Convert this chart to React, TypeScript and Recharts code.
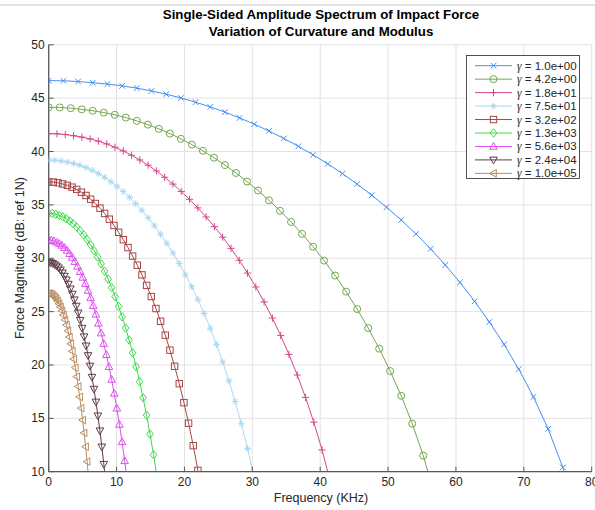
import { LineChart, Line, XAxis, YAxis, CartesianGrid } from 'recharts'

// gamma values shown in the legend
const gammaLabels = ['1.0e+00', '4.2e+00', '1.8e+01', '7.5e+01', '3.2e+02', '1.3e+03', '5.6e+03', '2.4e+04', '1.0e+05']

// frequency spacing (KHz) between samples of each curve
const freqSteps = [2.164, 1.623, 1.2205, 0.9155, 0.687, 0.515, 0.386, 0.29, 0.2175]

// force magnitude (dB), one entry per sample
const g1 = [46.64, 46.63, 46.56, 46.45, 46.32, 46.15, 45.94, 45.68, 45.37, 45.02, 44.62, 44.18, 43.69, 43.15, 42.56, 41.92, 41.23, 40.49, 39.69, 38.84, 37.93, 36.95, 35.9, 34.78, 33.58, 32.28, 30.88, 29.37, 27.74, 25.96, 24.03, 21.93, 19.61, 17.01, 14.01, 10.41, 5.81]
const g4 = [44.14, 44.13, 44.06, 43.95, 43.82, 43.65, 43.44, 43.18, 42.87, 42.52, 42.12, 41.68, 41.19, 40.65, 40.06, 39.42, 38.73, 37.99, 37.19, 36.34, 35.43, 34.45, 33.4, 32.28, 31.08, 29.78, 28.38, 26.87, 25.24, 23.46, 21.53, 19.43, 17.11, 14.51, 11.51, 7.91]
const g18 = [41.67, 41.66, 41.59, 41.48, 41.35, 41.18, 40.97, 40.71, 40.4, 40.05, 39.65, 39.21, 38.72, 38.18, 37.59, 36.95, 36.26, 35.52, 34.72, 33.87, 32.96, 31.98, 30.93, 29.81, 28.61, 27.31, 25.91, 24.4, 22.77, 20.99, 19.06, 16.96, 14.64, 12.04, 9.04]
const g75 = [39.2, 39.19, 39.12, 39.01, 38.88, 38.71, 38.5, 38.24, 37.93, 37.58, 37.18, 36.74, 36.25, 35.71, 35.12, 34.48, 33.79, 33.05, 32.25, 31.4, 30.49, 29.51, 28.46, 27.34, 26.14, 24.84, 23.44, 21.93, 20.3, 18.52, 16.59, 14.49, 12.17, 9.57]
const g320 = [37.15, 37.14, 37.07, 36.96, 36.83, 36.66, 36.45, 36.19, 35.88, 35.53, 35.13, 34.69, 34.2, 33.66, 33.07, 32.43, 31.74, 31.0, 30.2, 29.35, 28.44, 27.46, 26.41, 25.29, 24.09, 22.79, 21.39, 19.88, 18.25, 16.47, 14.54, 12.44, 10.12, 7.52]
const g1300 = [34.2, 34.19, 34.12, 34.01, 33.88, 33.71, 33.5, 33.24, 32.93, 32.58, 32.18, 31.74, 31.25, 30.71, 30.12, 29.48, 28.79, 28.05, 27.25, 26.4, 25.49, 24.51, 23.46, 22.34, 21.14, 19.84, 18.44, 16.93, 15.3, 13.52, 11.59, 9.49]
const g5600 = [31.7, 31.69, 31.62, 31.51, 31.38, 31.21, 31.0, 30.74, 30.43, 30.08, 29.68, 29.24, 28.75, 28.21, 27.62, 26.98, 26.29, 25.55, 24.75, 23.9, 22.99, 22.01, 20.96, 19.84, 18.64, 17.34, 15.94, 14.43, 12.8, 11.02, 9.09]
const g24k = [29.6, 29.59, 29.52, 29.41, 29.28, 29.11, 28.9, 28.64, 28.33, 27.98, 27.58, 27.14, 26.65, 26.11, 25.52, 24.88, 24.19, 23.45, 22.65, 21.8, 20.89, 19.91, 18.86, 17.74, 16.54, 15.24, 13.84, 12.33, 10.7, 8.92]
const g100k = [26.7, 26.69, 26.62, 26.51, 26.38, 26.21, 26.0, 25.74, 25.43, 25.08, 24.68, 24.24, 23.75, 23.21, 22.62, 21.98, 21.29, 20.55, 19.75, 18.9, 17.99, 17.01, 15.96, 14.84, 13.64, 12.34, 10.94, 9.43]

const xTicks = [0, 10, 20, 30, 40, 50, 60, 70, 80]
const yTicks = [10, 15, 20, 25, 30, 35, 40, 45, 50]

const curves = [g1, g4, g18, g75, g320, g1300, g5600, g24k, g100k]
const colors = ['#4290f5', '#72a84e', '#d4478a', '#a9d9f2', '#a84545', '#3fd94a', '#dc4fef', '#5e3b49', '#b98c62']
const markers = ['x', 'o', '+', '*', 's', 'd', '^', 'v', '<']

const AXIS = '#595959'
const TEXT = '#262626'
const FONT = '"Liberation Sans", Arial, Helvetica, sans-serif'

function Marker({ cx, cy, kind, color }: { cx: number; cy: number; kind: string; color: string }) {
  if (cx == null || cy == null || isNaN(cx) || isNaN(cy)) return null
  const p = { stroke: color, fill: 'none', strokeWidth: 1 }
  switch (kind) {
    case 'x': {
      const s = 2.8
      return <path {...p} d={`M${cx - s},${cy - s}L${cx + s},${cy + s}M${cx - s},${cy + s}L${cx + s},${cy - s}`} />
    }
    case 'o':
      return <circle {...p} cx={cx} cy={cy} r={3.5} />
    case '+': {
      const s = 3.6
      return <path {...p} d={`M${cx - s},${cy}L${cx + s},${cy}M${cx},${cy - s}L${cx},${cy + s}`} />
    }
    case '*': {
      const s = 3.4
      const d = s * 0.71
      return (
        <path
          {...p}
          d={`M${cx - s},${cy}L${cx + s},${cy}M${cx},${cy - s}L${cx},${cy + s}M${cx - d},${cy - d}L${cx + d},${cy + d}M${cx - d},${cy + d}L${cx + d},${cy - d}`}
        />
      )
    }
    case 's':
      return <rect {...p} x={cx - 3.2} y={cy - 3.2} width={6.4} height={6.4} />
    case 'd': {
      const s = 4.2
      return <path {...p} d={`M${cx},${cy - s}L${cx + s * 0.8},${cy}L${cx},${cy + s}L${cx - s * 0.8},${cy}Z`} />
    }
    case '^':
      return <path {...p} d={`M${cx},${cy - 4}L${cx + 3.8},${cy + 2.8}L${cx - 3.8},${cy + 2.8}Z`} />
    case 'v':
      return <path {...p} d={`M${cx},${cy + 4}L${cx + 3.8},${cy - 2.8}L${cx - 3.8},${cy - 2.8}Z`} />
    case '<':
      return <path {...p} d={`M${cx - 4},${cy}L${cx + 2.8},${cy - 3.8}L${cx + 2.8},${cy + 3.8}Z`} />
    default:
      return null
  }
}

function XTick({ x, y, payload }: any) {
  return (
    <g>
      <line x1={x} x2={x} y1={y} y2={y - 5} stroke={AXIS} strokeWidth={1} />
      <text x={x} y={y + 14} textAnchor="middle" fontSize={12} fill={TEXT} fontFamily={FONT}>
        {payload.value}
      </text>
    </g>
  )
}

function YTick({ x, y, payload }: any) {
  return (
    <g>
      <line x1={x} x2={x + 5} y1={y} y2={y} stroke={AXIS} strokeWidth={1} />
      <text x={x - 4} y={y + 4} textAnchor="end" fontSize={12} fill={TEXT} fontFamily={FONT}>
        {payload.value}
      </text>
    </g>
  )
}

function LegendBox() {
  const top = 55
  const left = 466
  const rowH = 13.46
  return (
    <svg width={120} height={130} style={{ position: 'absolute', left, top, overflow: 'visible' }}>
      <rect x={0.5} y={0.5} width={113} height={123} fill="#fff" stroke={TEXT} strokeWidth={0.8} />
      {gammaLabels.map((g, k) => {
        const cy = 10.7 + k * rowH
        return (
          <g key={g}>
            <line x1={9} x2={46} y1={cy} y2={cy} stroke={colors[k]} strokeWidth={1} />
            <Marker cx={27.5} cy={cy} kind={markers[k]} color={colors[k]} />
            <text x={51} y={cy + 4} fontSize={11.5} fill={TEXT} fontFamily={FONT}>
              <tspan fontFamily='"Liberation Serif", "DejaVu Serif", serif' fontStyle="italic">γ</tspan>
              {` = ${g}`}
            </text>
          </g>
        )
      })}
    </svg>
  )
}

export default function App() {
  return (
    <div style={{ position: 'relative', width: 595, height: 510, background: '#fff' }}>
      <style>{'body{margin:0}'}</style>
      <LineChart width={595} height={510} margin={{ top: 44.8, right: 3.3, bottom: 8.3, left: 8.7 }}>
        <CartesianGrid stroke="#e2e2e2" strokeWidth={1} />
        <XAxis
          type="number"
          dataKey="f"
          domain={[0, 80]}
          ticks={xTicks}
          interval={0}
          height={30}
          stroke={AXIS}
          strokeWidth={1.3}
          tickLine={false}
          tickSize={0}
          tickMargin={0}
          tick={<XTick />}
          allowDataOverflow
        />
        <YAxis
          type="number"
          domain={[10, 50]}
          ticks={yTicks}
          interval={0}
          width={40}
          stroke={AXIS}
          strokeWidth={1.3}
          tickLine={false}
          tickSize={0}
          tickMargin={0}
          tick={<YTick />}
          allowDataOverflow
        />
        {curves.map((vals, k) => (
          <Line
            key={gammaLabels[k]}
            data={vals.map((v, i) => ({ f: i * freqSteps[k], v }))}
            dataKey="v"
            type="linear"
            stroke={colors[k]}
            strokeWidth={1}
            isAnimationActive={false}
            dot={(p: any) => <Marker key={p.index} cx={p.cx} cy={p.cy} kind={markers[k]} color={colors[k]} />}
            activeDot={false}
          />
        ))}
      </LineChart>
      <svg width={595} height={510} style={{ position: 'absolute', left: 0, top: 0, pointerEvents: 'none' }}>
        <line x1={0} x2={595} y1={5} y2={5} stroke="#c8c8c8" strokeWidth={1} />
        <text x={321} y={19} textAnchor="middle" fontSize={13.3} fontWeight="bold" fill="#000" fontFamily={FONT}>
          Single-Sided Amplitude Spectrum of Impact Force
        </text>
        <text x={321} y={35.5} textAnchor="middle" fontSize={13.3} fontWeight="bold" fill="#000" fontFamily={FONT}>
          Variation of Curvature and Modulus
        </text>
        <text x={321} y={502} textAnchor="middle" fontSize={12.5} fill={TEXT} fontFamily={FONT}>
          Frequency (KHz)
        </text>
        <text
          x={0}
          y={0}
          transform="translate(24,258) rotate(-90)"
          textAnchor="middle"
          fontSize={12.5}
          fill={TEXT}
          fontFamily={FONT}
        >
          Force Magnitude (dB: ref 1N)
        </text>
      </svg>
      <LegendBox />
    </div>
  )
}
